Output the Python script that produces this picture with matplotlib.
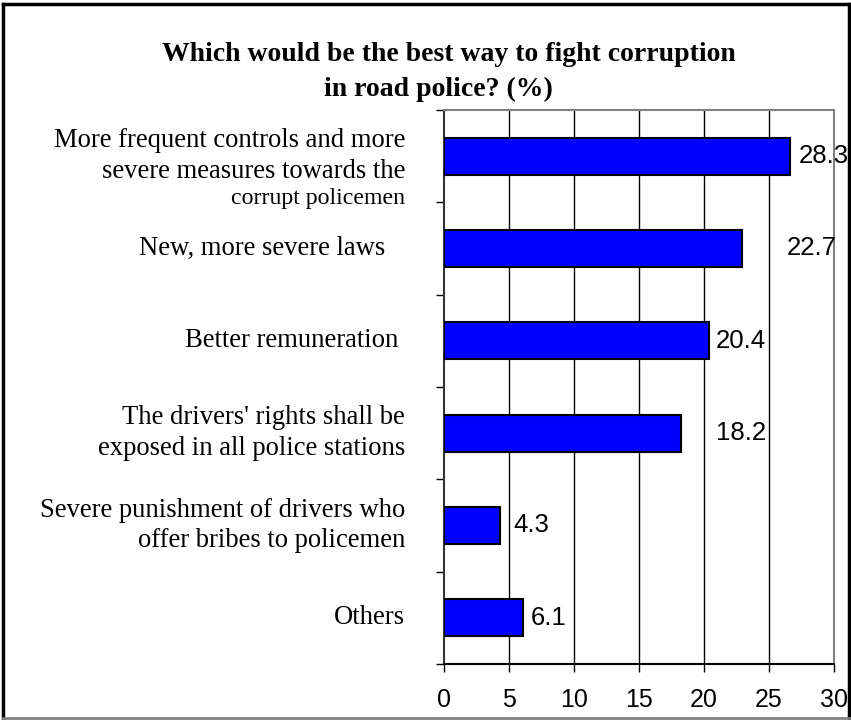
import matplotlib.pyplot as plt
import matplotlib.transforms as mtransforms
from matplotlib.lines import Line2D

# Categories, top to bottom
categories = [
    "More frequent controls and more\nsevere measures towards the",
    "New, more severe laws   ",
    "Better remuneration ",
    "The drivers' rights shall be\nexposed in all police stations",
    "Severe punishment of drivers who\noffer bribes to policemen",
    "Others",
]
extra_line = "corrupt policemen"  # small third line of the first label

# bar lengths as drawn, and the value labels printed next to them
bar_values = [26.6, 22.9, 20.4, 18.2, 4.3, 6.1]
value_labels = ["28.3", "22.7", "20.4", "18.2", "4.3", "6.1"]
label_gap = [9, 45, 7, 35, 13, 7]  # pixels between bar end and label

x_ticks = [0, 5, 10, 15, 20, 25, 30]

title_lines = ["Which would be the best way to fight corruption",
               "in road police? (%)"]

fig = plt.figure(figsize=(8.51, 7.2), dpi=100)
ax = fig.add_axes([444 / 851, 56 / 720, 390 / 851, 554 / 720])

ypos = list(range(len(categories)))
ax.barh(ypos, bar_values, height=0.4, color="#0000FF",
        edgecolor="black", linewidth=1.5, zorder=3)

ax.set_xlim(0, 30)
ax.set_ylim(len(categories) - 0.5, -0.5)
ax.set_xticks(x_ticks)
ax.set_xticklabels([str(t) for t in x_ticks], fontfamily="Liberation Sans",
                   fontsize=18)
ax.set_yticks([i - 0.5 for i in range(len(categories) + 1)])
ax.set_yticklabels([])
ax.tick_params(axis="both", direction="out", length=6, width=1, color="black")
ax.tick_params(axis="x", pad=11)

for t in x_ticks[1:-1]:
    ax.axvline(t, color="black", linewidth=1, zorder=1)

ax.spines["top"].set_color("#808080")
ax.spines["right"].set_color("#808080")
ax.spines["top"].set_linewidth(1.5)
ax.spines["right"].set_linewidth(1.5)
ax.spines["left"].set_color("#333333")
ax.spines["left"].set_linewidth(1.5)
ax.spines["bottom"].set_color("black")
ax.spines["bottom"].set_linewidth(1.5)

# value labels
for i, (v, lab, gap) in enumerate(zip(bar_values, value_labels, label_gap)):
    ax.annotate(lab, xy=(v, i), xytext=(gap, 0), textcoords="offset pixels",
                ha="left", va="center", fontfamily="Liberation Sans",
                fontsize=18.5, annotation_clip=False, zorder=4)

# category labels
trans = mtransforms.blended_transform_factory(ax.transAxes, ax.transData)
for i, cat in enumerate(categories):
    ax.annotate(cat, xy=(0, i), xycoords=trans, xytext=(-39, 0),
                textcoords="offset pixels", ha="right", va="center",
                fontfamily="Liberation Serif", fontsize=19.2,
                linespacing=1.3, annotation_clip=False)
ax.annotate(extra_line, xy=(0, 0), xycoords=trans, xytext=(-39, -42),
            textcoords="offset pixels", ha="right", va="center",
            fontfamily="Liberation Serif", fontsize=17.2,
            annotation_clip=False)

# title, two centred lines
fig.text(448.5 / 851, 1 - 61 / 720, title_lines[0], ha="center",
         va="baseline", fontfamily="Liberation Serif", fontweight="bold",
         fontsize=20)
fig.text(438.5 / 851, 1 - 96 / 720, title_lines[1], ha="center",
         va="baseline", fontfamily="Liberation Serif", fontweight="bold",
         fontsize=20)

# outer frame
fig.add_artist(Line2D([3 / 851, 3 / 851], [2 / 720, 716 / 720],
                      transform=fig.transFigure, color="black", linewidth=2.5))
fig.add_artist(Line2D([3 / 851, 849 / 851], [716 / 720, 716 / 720],
                      transform=fig.transFigure, color="black", linewidth=2.5))
fig.add_artist(Line2D([849 / 851, 849 / 851], [2 / 720, 716 / 720],
                      transform=fig.transFigure, color="black", linewidth=2.5))
fig.add_artist(Line2D([3 / 851, 849 / 851], [2 / 720, 2 / 720],
                      transform=fig.transFigure, color="#808080", linewidth=2))

fig.savefig("out.png", dpi=100)
